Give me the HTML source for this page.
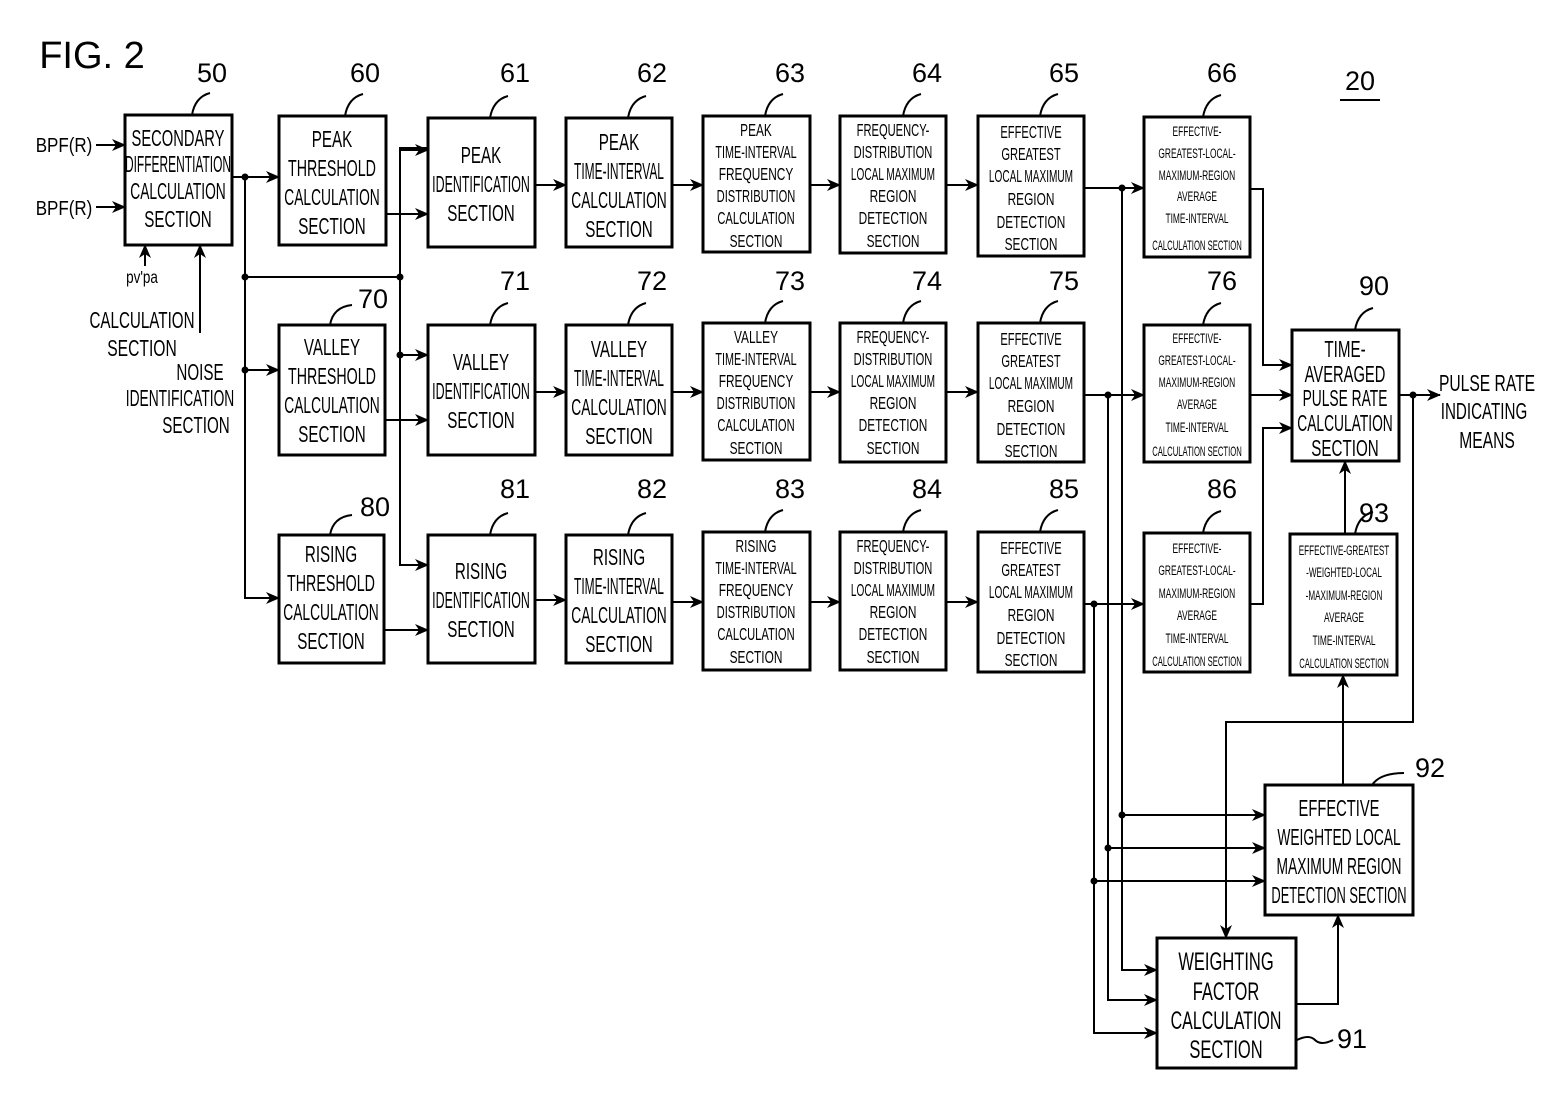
<!DOCTYPE html>
<html><head><meta charset="utf-8"><style>
html,body{margin:0;padding:0;background:#fff}
svg{display:block}
text{font-family:"Liberation Sans",sans-serif;fill:#000;text-anchor:middle}
.a{font-size:23px}.b{font-size:18px}.c{font-size:14px}.n{font-size:27px}
</style></head><body>
<svg width="1547" height="1098" viewBox="0 0 1547 1098" xmlns="http://www.w3.org/2000/svg">
<defs><marker id="ar" markerWidth="14" markerHeight="12" refX="13" refY="6" orient="auto" markerUnits="userSpaceOnUse"><path d="M0,0 L14,6 L0,12 L4,6 Z" fill="#000"/></marker></defs>
<text x="92" y="68" style="font-size:38px">FIG. 2</text>
<g fill="none" stroke="#000" stroke-width="3">
<rect x="125" y="115" width="107" height="130"/>
<rect x="279" y="116" width="107" height="129"/>
<rect x="428" y="118" width="107" height="129"/>
<rect x="566" y="118" width="106" height="129"/>
<rect x="703" y="116" width="107" height="136"/>
<rect x="840" y="116" width="106" height="137"/>
<rect x="978" y="116" width="106" height="140"/>
<rect x="1144" y="117" width="106" height="140"/>
<rect x="279" y="325" width="106" height="130"/>
<rect x="428" y="325" width="107" height="130"/>
<rect x="566" y="325" width="106" height="130"/>
<rect x="703" y="323" width="107" height="137"/>
<rect x="840" y="323" width="106" height="139"/>
<rect x="978" y="323" width="106" height="139"/>
<rect x="1144" y="325" width="106" height="137"/>
<rect x="1292" y="330" width="107" height="131"/>
<rect x="279" y="535" width="105" height="128"/>
<rect x="428" y="535" width="107" height="128"/>
<rect x="566" y="535" width="106" height="128"/>
<rect x="703" y="532" width="107" height="138"/>
<rect x="840" y="532" width="106" height="138"/>
<rect x="978" y="532" width="106" height="140"/>
<rect x="1144" y="533" width="106" height="139"/>
<rect x="1290" y="534" width="107" height="141"/>
<rect x="1265" y="785" width="148" height="130"/>
<rect x="1157" y="938" width="139" height="130"/>
</g>
<g fill="none" stroke="#000" stroke-width="2">
<path d="M96,145 H125" marker-end="url(#ar)"/><path d="M96,207 H125" marker-end="url(#ar)"/>
<path d="M145,266 V245" marker-end="url(#ar)"/><path d="M200,333 V245" marker-end="url(#ar)"/>
<path d="M232,177 H279" marker-end="url(#ar)"/>
<path d="M245,177 V598 H279" marker-end="url(#ar)"/>
<path d="M245,370 H279" marker-end="url(#ar)"/>
<path d="M245,277 H400"/>
<path d="M428,148 H400 V565 H428" marker-end="url(#ar)"/>
<path d="M400,150 H428" marker-end="url(#ar)"/>
<path d="M400,355 H428" marker-end="url(#ar)"/>
<path d="M386,214 H428" marker-end="url(#ar)"/>
<path d="M385,420 H428" marker-end="url(#ar)"/>
<path d="M384,630 H428" marker-end="url(#ar)"/>
<path d="M535,185 H566" marker-end="url(#ar)"/><path d="M672,185 H703" marker-end="url(#ar)"/><path d="M810,185 H840" marker-end="url(#ar)"/><path d="M946,185 H978" marker-end="url(#ar)"/><path d="M1084,188 H1144" marker-end="url(#ar)"/>
<path d="M535,392 H566" marker-end="url(#ar)"/><path d="M672,392 H703" marker-end="url(#ar)"/><path d="M810,392 H840" marker-end="url(#ar)"/><path d="M946,392 H978" marker-end="url(#ar)"/><path d="M1084,395 H1144" marker-end="url(#ar)"/>
<path d="M535,600 H566" marker-end="url(#ar)"/><path d="M672,602 H703" marker-end="url(#ar)"/><path d="M810,602 H840" marker-end="url(#ar)"/><path d="M946,602 H978" marker-end="url(#ar)"/><path d="M1084,604 H1144" marker-end="url(#ar)"/>
<path d="M1250,189 H1263 V365 H1292" marker-end="url(#ar)"/>
<path d="M1250,395 H1292" marker-end="url(#ar)"/>
<path d="M1250,604 H1263 V428 H1292" marker-end="url(#ar)"/>
<path d="M1399,395 H1440" marker-end="url(#ar)"/>
<path d="M1413,395 V722 H1226 V938" marker-end="url(#ar)"/>
<path d="M1343,785 V675" marker-end="url(#ar)"/>
<path d="M1345,534 V461" marker-end="url(#ar)"/>
<path d="M1296,1004 H1338 V915" marker-end="url(#ar)"/>
<path d="M1122,188 V970 H1157" marker-end="url(#ar)"/>
<path d="M1108,395 V1000 H1157" marker-end="url(#ar)"/>
<path d="M1094,604 V1033 H1157" marker-end="url(#ar)"/>
<path d="M1122,815 H1265" marker-end="url(#ar)"/>
<path d="M1108,848 H1265" marker-end="url(#ar)"/>
<path d="M1094,881 H1265" marker-end="url(#ar)"/>
<path d="M1340,100 H1380"/>
<path d="M192,115 q3,-18 18,-22"/><path d="M345,116 q3,-18 18,-22"/><path d="M490,118 q3,-18 18,-22"/><path d="M628,118 q3,-18 18,-22"/><path d="M765,116 q3,-18 18,-22"/><path d="M903,116 q3,-18 18,-22"/><path d="M1040,116 q3,-18 18,-22"/><path d="M1203,117 q3,-18 18,-22"/>
<path d="M330,325 q3,-18 22,-20"/><path d="M490,325 q3,-18 18,-22"/><path d="M628,325 q3,-18 18,-22"/><path d="M765,323 q3,-18 18,-22"/><path d="M903,323 q3,-18 18,-22"/><path d="M1040,323 q3,-18 18,-22"/><path d="M1203,325 q3,-18 18,-22"/><path d="M1355,330 q3,-18 18,-22"/>
<path d="M330,535 q3,-18 22,-20"/><path d="M490,535 q3,-18 18,-22"/><path d="M628,535 q3,-18 18,-22"/><path d="M765,532 q3,-18 18,-22"/><path d="M903,532 q3,-18 18,-22"/><path d="M1040,532 q3,-18 18,-22"/><path d="M1203,533 q3,-18 18,-22"/><path d="M1355,534 q3,-18 18,-22"/>
<path d="M1372,785 q8,-12 32,-12"/><path d="M1297,1040 q12,-6 18,0 q6,6 18,0"/>
</g>
<g fill="#000">
<circle cx="245" cy="177" r="3.5"/><circle cx="245" cy="277" r="3.5"/><circle cx="245" cy="370" r="3.5"/><circle cx="400" cy="277" r="3.5"/><circle cx="400" cy="355" r="3.5"/>
<circle cx="1122" cy="188" r="3.5"/><circle cx="1108" cy="395" r="3.5"/><circle cx="1094" cy="604" r="3.5"/>
<circle cx="1122" cy="815" r="3.5"/><circle cx="1108" cy="848" r="3.5"/><circle cx="1094" cy="881" r="3.5"/><circle cx="1413" cy="395" r="3.5"/>
</g>
<g class="n">
<text x="212" y="82">50</text><text x="365" y="82">60</text><text x="515" y="82">61</text><text x="652" y="82">62</text><text x="790" y="82">63</text><text x="927" y="82">64</text><text x="1064" y="82">65</text><text x="1222" y="82">66</text><text x="1360" y="90">20</text>
<text x="373" y="308">70</text><text x="515" y="290">71</text><text x="652" y="290">72</text><text x="790" y="290">73</text><text x="927" y="290">74</text><text x="1064" y="290">75</text><text x="1222" y="290">76</text><text x="1374" y="295">90</text>
<text x="375" y="516">80</text><text x="515" y="498">81</text><text x="652" y="498">82</text><text x="790" y="498">83</text><text x="927" y="498">84</text><text x="1064" y="498">85</text><text x="1222" y="498">86</text><text x="1374" y="522">93</text>
<text x="1430" y="777">92</text><text x="1352" y="1048">91</text>
</g>
<g class="b">
<text transform="translate(64 152) scale(.85 1)" style="font-size:20px">BPF(R)</text><text transform="translate(64 215) scale(.85 1)" style="font-size:20px">BPF(R)</text>
<text transform="translate(142 283) scale(.75 1)">pv'pa</text><text transform="translate(142 328) scale(.66 1)" class="a">CALCULATION</text><text transform="translate(142 356) scale(.68 1)" class="a">SECTION</text>
<text transform="translate(200 380) scale(.66 1)" class="a">NOISE</text><text transform="translate(180 406) scale(.6 1)" class="a">IDENTIFICATION</text><text transform="translate(196 433) scale(.66 1)" class="a">SECTION</text>
<text transform="translate(1487 391) scale(.68 1)" class="a">PULSE RATE</text><text transform="translate(1484 419) scale(.66 1)" class="a">INDICATING</text><text transform="translate(1487 448) scale(.68 1)" class="a">MEANS</text>
</g>
<g class="a">
<text transform="translate(178 146) scale(.64 1)">SECONDARY</text><text transform="translate(178 172) scale(.52 1)">DIFFERENTIATION</text><text transform="translate(178 199) scale(.6 1)">CALCULATION</text><text transform="translate(178 227) scale(.66 1)">SECTION</text>
<text transform="translate(332 147) scale(.66 1)">PEAK</text><text transform="translate(332 176) scale(.62 1)">THRESHOLD</text><text transform="translate(332 205) scale(.6 1)">CALCULATION</text><text transform="translate(332 234) scale(.66 1)">SECTION</text>
<text transform="translate(332 355) scale(.66 1)">VALLEY</text><text transform="translate(332 384) scale(.62 1)">THRESHOLD</text><text transform="translate(332 413) scale(.6 1)">CALCULATION</text><text transform="translate(332 442) scale(.66 1)">SECTION</text>
<text transform="translate(331 562) scale(.66 1)">RISING</text><text transform="translate(331 591) scale(.62 1)">THRESHOLD</text><text transform="translate(331 620) scale(.6 1)">CALCULATION</text><text transform="translate(331 649) scale(.66 1)">SECTION</text>
<text transform="translate(481 163) scale(.66 1)">PEAK</text><text transform="translate(481 192) scale(.54 1)">IDENTIFICATION</text><text transform="translate(481 221) scale(.66 1)">SECTION</text>
<text transform="translate(481 370) scale(.66 1)">VALLEY</text><text transform="translate(481 399) scale(.54 1)">IDENTIFICATION</text><text transform="translate(481 428) scale(.66 1)">SECTION</text>
<text transform="translate(481 579) scale(.66 1)">RISING</text><text transform="translate(481 608) scale(.54 1)">IDENTIFICATION</text><text transform="translate(481 637) scale(.66 1)">SECTION</text>
<text transform="translate(619 150) scale(.66 1)">PEAK</text><text transform="translate(619 179) scale(.52 1)">TIME-INTERVAL</text><text transform="translate(619 208) scale(.6 1)">CALCULATION</text><text transform="translate(619 237) scale(.66 1)">SECTION</text>
<text transform="translate(619 357) scale(.66 1)">VALLEY</text><text transform="translate(619 386) scale(.52 1)">TIME-INTERVAL</text><text transform="translate(619 415) scale(.6 1)">CALCULATION</text><text transform="translate(619 444) scale(.66 1)">SECTION</text>
<text transform="translate(619 565) scale(.66 1)">RISING</text><text transform="translate(619 594) scale(.52 1)">TIME-INTERVAL</text><text transform="translate(619 623) scale(.6 1)">CALCULATION</text><text transform="translate(619 652) scale(.66 1)">SECTION</text>
<text transform="translate(1345 357) scale(.66 1)">TIME-</text><text transform="translate(1345 382) scale(.64 1)">AVERAGED</text><text transform="translate(1345 406) scale(.6 1)">PULSE RATE</text><text transform="translate(1345 431) scale(.6 1)">CALCULATION</text><text transform="translate(1345 456) scale(.66 1)">SECTION</text>
<text transform="translate(1339 816) scale(.64 1)">EFFECTIVE</text><text transform="translate(1339 845) scale(.6 1)">WEIGHTED LOCAL</text><text transform="translate(1339 874) scale(.6 1)">MAXIMUM REGION</text><text transform="translate(1339 903) scale(.56 1)">DETECTION SECTION</text>
<text style="font-size:25px" transform="translate(1226 970) scale(.66 1)">WEIGHTING</text><text style="font-size:25px" transform="translate(1226 1000) scale(.66 1)">FACTOR</text><text style="font-size:25px" transform="translate(1226 1029) scale(.64 1)">CALCULATION</text><text style="font-size:25px" transform="translate(1226 1058) scale(.66 1)">SECTION</text>
</g>
<g class="b">
<text transform="translate(756 136) scale(.66 1)">PEAK</text><text transform="translate(756 158) scale(.6 1)">TIME-INTERVAL</text><text transform="translate(756 180) scale(.66 1)">FREQUENCY</text><text transform="translate(756 202) scale(.62 1)">DISTRIBUTION</text><text transform="translate(756 224) scale(.62 1)">CALCULATION</text><text transform="translate(756 247) scale(.66 1)">SECTION</text>
<text transform="translate(756 343) scale(.66 1)">VALLEY</text><text transform="translate(756 365) scale(.6 1)">TIME-INTERVAL</text><text transform="translate(756 387) scale(.66 1)">FREQUENCY</text><text transform="translate(756 409) scale(.62 1)">DISTRIBUTION</text><text transform="translate(756 431) scale(.62 1)">CALCULATION</text><text transform="translate(756 454) scale(.66 1)">SECTION</text>
<text transform="translate(756 552) scale(.66 1)">RISING</text><text transform="translate(756 574) scale(.6 1)">TIME-INTERVAL</text><text transform="translate(756 596) scale(.66 1)">FREQUENCY</text><text transform="translate(756 618) scale(.62 1)">DISTRIBUTION</text><text transform="translate(756 640) scale(.62 1)">CALCULATION</text><text transform="translate(756 663) scale(.66 1)">SECTION</text>
<text transform="translate(893 136) scale(.62 1)">FREQUENCY-</text><text transform="translate(893 158) scale(.62 1)">DISTRIBUTION</text><text transform="translate(893 180) scale(.56 1)">LOCAL MAXIMUM</text><text transform="translate(893 202) scale(.66 1)">REGION</text><text transform="translate(893 224) scale(.66 1)">DETECTION</text><text transform="translate(893 247) scale(.66 1)">SECTION</text>
<text transform="translate(893 343) scale(.62 1)">FREQUENCY-</text><text transform="translate(893 365) scale(.62 1)">DISTRIBUTION</text><text transform="translate(893 387) scale(.56 1)">LOCAL MAXIMUM</text><text transform="translate(893 409) scale(.66 1)">REGION</text><text transform="translate(893 431) scale(.66 1)">DETECTION</text><text transform="translate(893 454) scale(.66 1)">SECTION</text>
<text transform="translate(893 552) scale(.62 1)">FREQUENCY-</text><text transform="translate(893 574) scale(.62 1)">DISTRIBUTION</text><text transform="translate(893 596) scale(.56 1)">LOCAL MAXIMUM</text><text transform="translate(893 618) scale(.66 1)">REGION</text><text transform="translate(893 640) scale(.66 1)">DETECTION</text><text transform="translate(893 663) scale(.66 1)">SECTION</text>
<text transform="translate(1031 138) scale(.62 1)">EFFECTIVE</text><text transform="translate(1031 160) scale(.62 1)">GREATEST</text><text transform="translate(1031 182) scale(.56 1)">LOCAL MAXIMUM</text><text transform="translate(1031 205) scale(.66 1)">REGION</text><text transform="translate(1031 228) scale(.66 1)">DETECTION</text><text transform="translate(1031 250) scale(.66 1)">SECTION</text>
<text transform="translate(1031 345) scale(.62 1)">EFFECTIVE</text><text transform="translate(1031 367) scale(.62 1)">GREATEST</text><text transform="translate(1031 389) scale(.56 1)">LOCAL MAXIMUM</text><text transform="translate(1031 412) scale(.66 1)">REGION</text><text transform="translate(1031 435) scale(.66 1)">DETECTION</text><text transform="translate(1031 457) scale(.66 1)">SECTION</text>
<text transform="translate(1031 554) scale(.62 1)">EFFECTIVE</text><text transform="translate(1031 576) scale(.62 1)">GREATEST</text><text transform="translate(1031 598) scale(.56 1)">LOCAL MAXIMUM</text><text transform="translate(1031 621) scale(.66 1)">REGION</text><text transform="translate(1031 644) scale(.66 1)">DETECTION</text><text transform="translate(1031 666) scale(.66 1)">SECTION</text>
</g>
<g class="c">
<text transform="translate(1197 136) scale(.6 1)">EFFECTIVE-</text><text transform="translate(1197 158) scale(.6 1)">GREATEST-LOCAL-</text><text transform="translate(1197 180) scale(.6 1)">MAXIMUM-REGION</text><text transform="translate(1197 201) scale(.6 1)">AVERAGE</text><text transform="translate(1197 223) scale(.6 1)">TIME-INTERVAL</text><text transform="translate(1197 250) scale(.55 1)">CALCULATION SECTION</text>
<text transform="translate(1197 343) scale(.6 1)">EFFECTIVE-</text><text transform="translate(1197 365) scale(.6 1)">GREATEST-LOCAL-</text><text transform="translate(1197 387) scale(.6 1)">MAXIMUM-REGION</text><text transform="translate(1197 409) scale(.6 1)">AVERAGE</text><text transform="translate(1197 432) scale(.6 1)">TIME-INTERVAL</text><text transform="translate(1197 456) scale(.55 1)">CALCULATION SECTION</text>
<text transform="translate(1197 553) scale(.6 1)">EFFECTIVE-</text><text transform="translate(1197 575) scale(.6 1)">GREATEST-LOCAL-</text><text transform="translate(1197 598) scale(.6 1)">MAXIMUM-REGION</text><text transform="translate(1197 620) scale(.6 1)">AVERAGE</text><text transform="translate(1197 643) scale(.6 1)">TIME-INTERVAL</text><text transform="translate(1197 666) scale(.55 1)">CALCULATION SECTION</text>
<text transform="translate(1344 555) scale(.58 1)">EFFECTIVE-GREATEST</text><text transform="translate(1344 577) scale(.58 1)">-WEIGHTED-LOCAL</text><text transform="translate(1344 600) scale(.58 1)">-MAXIMUM-REGION</text><text transform="translate(1344 622) scale(.6 1)">AVERAGE</text><text transform="translate(1344 645) scale(.6 1)">TIME-INTERVAL</text><text transform="translate(1344 668) scale(.55 1)">CALCULATION SECTION</text>
</g>
</svg>
</body></html>
